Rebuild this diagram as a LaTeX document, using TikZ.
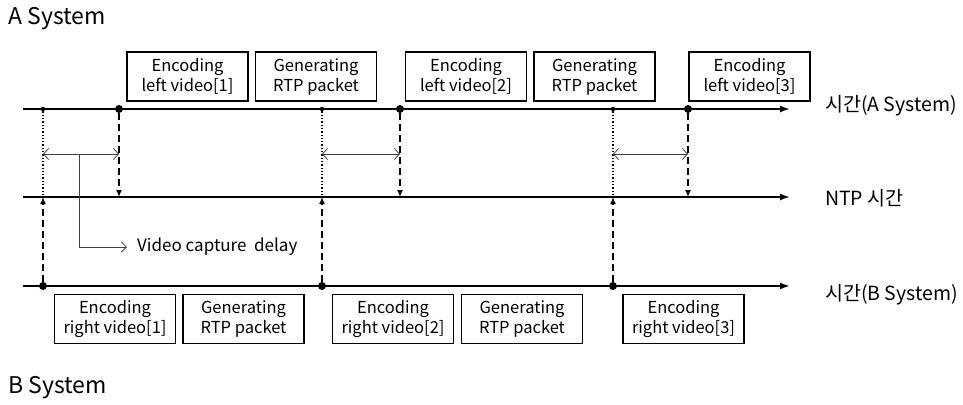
\documentclass[tikz,border=0pt]{standalone}
\usepackage{fontspec}
\setmainfont{Noto Sans CJK KR}
\usetikzlibrary{arrows.meta}
\begin{document}
\begin{tikzpicture}[x=1pt,y=-1pt,
  axis/.style={line width=1.8pt,-{Latex[length=10,width=7]}},
  evbox/.style={draw,line width=1.4pt,minimum width=121,minimum height=49,
    align=center,inner sep=0pt,font=\fontsize{16.5}{20}\selectfont},
  syslabel/.style={anchor=west,inner sep=0pt,font=\fontsize{23}{26}\selectfont},
  axlabel/.style={anchor=west,inner sep=0pt,font=\fontsize{19.5}{22}\selectfont},
  dashline/.style={line width=1.4pt,dash pattern=on 7pt off 4pt,-{Latex[length=7,width=6]}},
  dotline/.style={line width=1.3pt,dotted},
  span/.style={line width=0.8pt,draw=black!75,{Straight Barb[length=5,width=11]}-{Straight Barb[length=5,width=11]}},
  bigdot/.style={circle,fill,inner sep=0pt,minimum size=8},
  smalldot/.style={circle,fill,inner sep=0pt,minimum size=4.5}]
\useasboundingbox (0,0) rectangle (963,404);

% system titles
\node[syslabel] (sa) at (8,19) {A System};
\node[syslabel] (sb) at (8,388) {B System};

% the three time axes
\coordinate (aS) at (23,109); \coordinate (aE) at (790,109);
\coordinate (nS) at (23,197); \coordinate (nE) at (790,197);
\coordinate (bS) at (23,286); \coordinate (bE) at (790,286);
\draw[axis] (aS) -- (aE);
\draw[axis] (nS) -- (nE);
\draw[axis] (bS) -- (bE);
\node[axlabel] (la) at (825,106) {시간(A System)};
\node[axlabel] (ln) at (825,198) {NTP 시간};
\node[axlabel] (lb) at (825,295) {시간(B System)};

% events on the A axis
\foreach \i/\x in {1/43,2/322,3/613}{
  \node[smalldot] (as\i) at (\x,109) {};
  \coordinate (ns\i) at (\x,197);
  \node[bigdot] (bs\i) at (\x,286) {};
}
\foreach \i/\x in {1/119,2/400,3/688}{
  \node[bigdot] (ab\i) at (\x,109) {};
  \coordinate (nb\i) at (\x,197);
}

% processing steps above and below the axes
\node[evbox] (ea1) at (187.5,76.5) {Encoding\\left video[1]};
\node[evbox] (ga1) at (316,76.5) {Generating\\RTP packet};
\node[evbox] (ea2) at (466,76.5) {Encoding\\left video[2]};
\node[evbox] (ga2) at (594.5,76.5) {Generating\\RTP packet};
\node[evbox] (ea3) at (749.5,76.5) {Encoding\\left video[3]};

\node[evbox] (eb1) at (115,319) {Encoding\\right video[1]};
\node[evbox] (gb1) at (243.5,319) {Generating\\RTP packet};
\node[evbox] (eb2) at (393,319) {Encoding\\right video[2]};
\node[evbox] (gb2) at (522,319) {Generating\\RTP packet};
\node[evbox] (eb3) at (683.5,319) {Encoding\\right video[3]};

% mappings onto the NTP axis
\foreach \i in {1,2,3}{
  \draw[dotline] (as\i) -- (ns\i);
  \draw[dashline] (bs\i) -- (ns\i);
  \draw[dashline] (ab\i) -- (nb\i);
}

% capture delay spans
\foreach \i/\xa/\xb in {1/43/119,2/322/400,3/613/688}{
  \coordinate (dl\i) at (\xa,154);
  \coordinate (dr\i) at (\xb,154);
  \draw[span] (dl\i) -- (dr\i);
}

% callout for the delay
\coordinate (cs) at (79,154);
\node[anchor=west,font=\fontsize{17}{20}\selectfont,inner sep=0pt] (cap) at (137,247) {Video capture\ \ delay};
\coordinate (ce) at (127,247);
\draw[line width=0.8pt,draw=black!75,-{Straight Barb[length=5,width=10]}] (cs) |- (ce);
\end{tikzpicture}
\end{document}
